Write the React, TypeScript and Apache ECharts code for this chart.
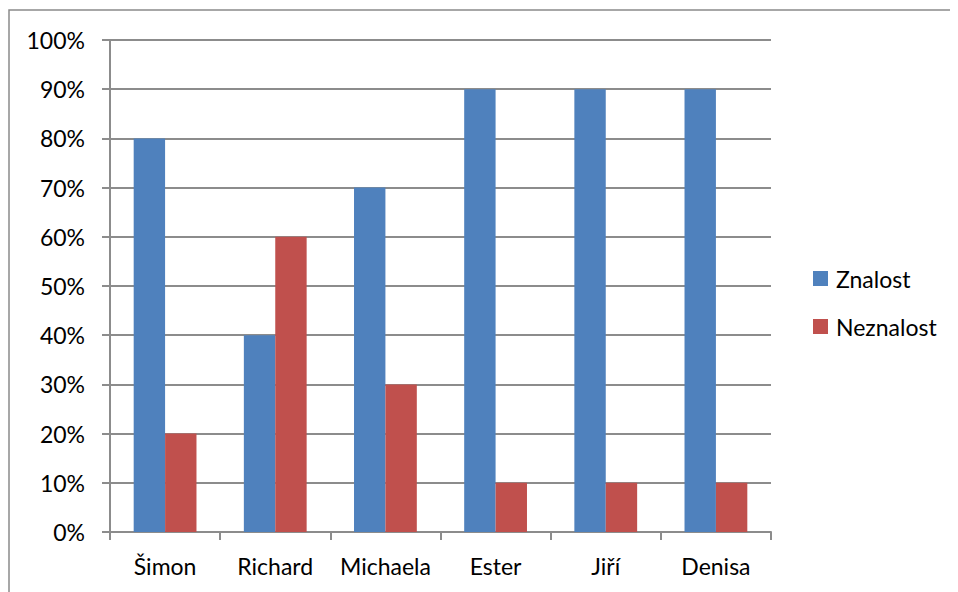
import React, { useEffect, useRef } from "react";
import * as echarts from "echarts";

const categories = ["Šimon", "Richard", "Michaela", "Ester", "Jiří", "Denisa"];
const znalost = [80, 40, 70, 90, 90, 90];
const neznalost = [20, 60, 30, 10, 10, 10];
const seriesNames = ["Znalost", "Neznalost"];

const FONT = "Lato";

export default function App() {
  const ref = useRef<HTMLDivElement>(null);
  useEffect(() => {
    if (!ref.current) return;
    const chart = echarts.init(ref.current, null, { renderer: "svg" });
    chart.setOption({
      animation: false,
      backgroundColor: "#ffffff",
      textStyle: { fontFamily: FONT },
      graphic: [
        {
          type: "rect",
          shape: { x: 1, y: 2, width: 1200, height: 1000 },
          style: { fill: "none", stroke: "#8a8a8a", lineWidth: 1.5 },
          silent: true,
        },
      ],
      grid: { left: 102, right: 187, top: 32, bottom: 60, containLabel: false },
      legend: {
        orient: "vertical",
        left: 800,
        top: 254,
        itemWidth: 15,
        itemHeight: 15,
        itemGap: 25,
        icon: "rect",
        textStyle: { fontFamily: FONT, fontSize: 23, color: "#000", padding: [0, 0, 0, 3] },
        data: seriesNames,
      },
      xAxis: {
        type: "category",
        data: categories,
        axisLine: { lineStyle: { color: "#8c8c8c", width: 2 } },
        axisTick: { show: true, interval: 0, length: 8, lineStyle: { color: "#8c8c8c", width: 2 } },
        axisLabel: { interval: 0, fontFamily: FONT, fontSize: 23, color: "#000", margin: 22 },
      },
      yAxis: {
        type: "value",
        min: 0,
        max: 100,
        interval: 10,
        axisLine: { show: true, lineStyle: { color: "#8c8c8c", width: 2 } },
        axisTick: { show: true, length: 8, lineStyle: { color: "#8c8c8c", width: 2 } },
        axisLabel: { fontFamily: FONT, fontSize: 23, color: "#000", margin: 25, formatter: "{value}%" },
        splitLine: { show: true, lineStyle: { color: "#8c8c8c", width: 2 } },
      },
      series: [
        {
          name: seriesNames[0],
          type: "bar",
          data: znalost,
          itemStyle: { color: "#4F81BD" },
          barGap: "0%",
          barCategoryGap: "43%",
        },
        {
          name: seriesNames[1],
          type: "bar",
          data: neznalost,
          itemStyle: { color: "#C0504D" },
          barGap: "0%",
          barCategoryGap: "43%",
        },
      ],
    });
    return () => chart.dispose();
  }, []);
  return <div ref={ref} style={{ width: 950, height: 584 }} />;
}
